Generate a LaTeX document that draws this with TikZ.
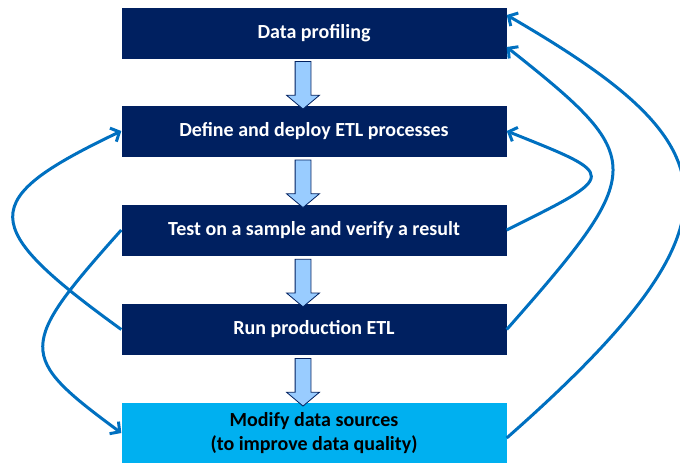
\documentclass[tikz,border=0pt]{standalone}
\usepackage{fontspec}
\setmainfont{Carlito}
\usetikzlibrary{arrows.meta,shapes.arrows,calc}

\definecolor{navybox}{HTML}{002060}
\definecolor{skybox}{HTML}{00B0F0}
\definecolor{loopblue}{HTML}{0070C0}
\definecolor{arrowfill}{HTML}{99CCFF}

\tikzset{
  stage/.style={fill=navybox, text=white, minimum width=385pt, minimum height=51pt,
    inner sep=0pt, align=center, font=\fontsize{20}{24}\selectfont\bfseries},
  lightstage/.style={stage, fill=skybox, text=black, minimum height=60pt},
  downarrow/.style={single arrow, rotate=-90, draw=navybox, fill=arrowfill, line width=0.8pt,
    minimum height=47.5pt, inner xsep=0pt, inner ysep=7.5pt,
    single arrow head extend=8.5pt, single arrow head indent=0pt, single arrow tip angle=100},
  feedback/.style={draw=loopblue, line width=3pt, -{Straight Barb[length=7pt,width=15pt]}}
}

\begin{document}
\begin{tikzpicture}[x=1pt,y=-1pt]
  \useasboundingbox (0,0) rectangle (680,464);
  \def\midx{314}

  \node[stage] (profiling) at (\midx,33) {Data profiling};
  \node[stage] (deploy) at (\midx,131) {Define and deploy ETL processes};
  \node[stage] (test) at (\midx,230) {Test on a sample and verify a result};
  \node[stage] (run) at (\midx,329.5) {Run production ETL};
  \node[lightstage] (modify) at (\midx,433) {Modify data sources\\(to improve data quality)};

  % block arrows between the stages
  \foreach \a/\b in {profiling/deploy,deploy/test,test/run,run/modify}
    \node[downarrow] (\a-\b) at ($(\a.south)!0.5!(\b.north)+(-11,0)$) {};

  % loops back on the left
  \draw[feedback] (run.west) .. controls (-23,225) and (-23,200) .. (deploy.west);
  \draw[feedback] (test.west) .. controls (17,347) and (17,356) .. (modify.west);

  % loops back on the right
  \draw[feedback] (test.east) .. controls (619,174) and (619,176) .. (deploy.east);
  \draw[feedback] (run.east) .. controls (648,169) and (648,159) .. ([yshift=-14pt]profiling.east);
  \draw[feedback] ([yshift=-5pt]modify.east) .. controls (760,215) and (727,143) .. ([yshift=18pt]profiling.east);
\end{tikzpicture}
\end{document}
